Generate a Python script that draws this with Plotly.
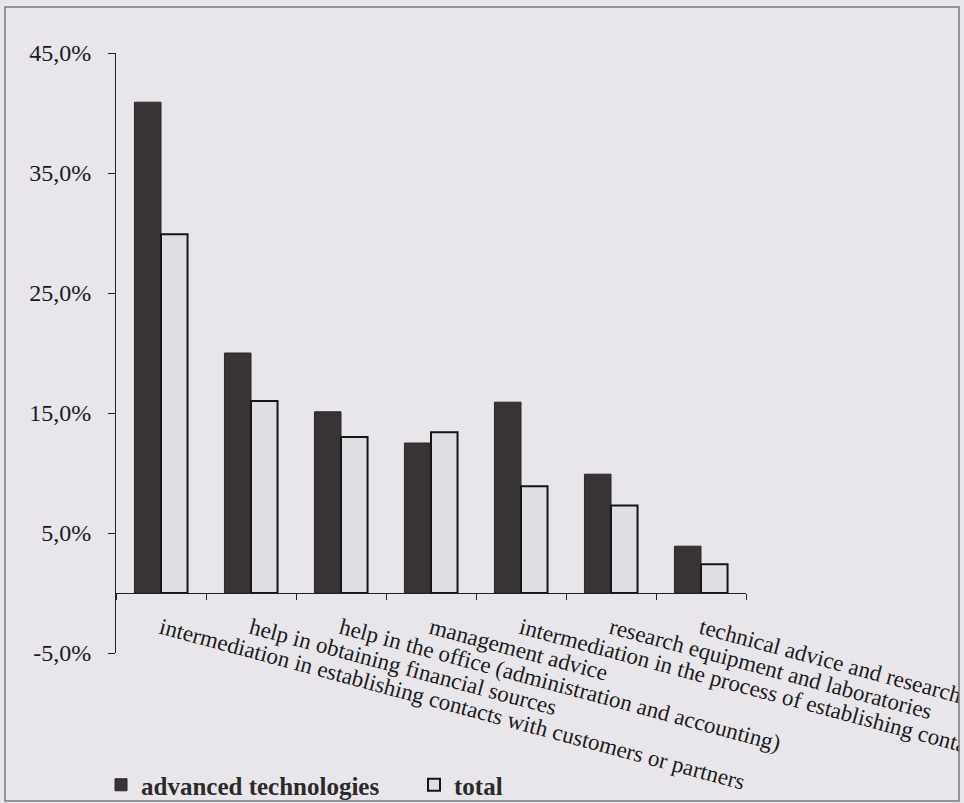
import plotly.graph_objects as go

categories = [
    "intermediation in establishing contacts with customers or partners",
    "help in obtaining financial sources",
    "help in the office (administration and accounting)",
    "management advice",
    "intermediation in the process of establishing contacts",
    "research equipment and laboratories",
    "technical advice and research",
]
advanced_technologies = [40.9, 20.0, 15.1, 12.5, 15.9, 9.9, 3.9]
total = [29.9, 16.0, 13.0, 13.4, 8.9, 7.3, 2.4]
series_names = ["advanced technologies", "total"]
y_tick_values = [-5, 5, 15, 25, 35, 45]
y_tick_labels = ["-5,0%", "5,0%", "15,0%", "25,0%", "35,0%", "45,0%"]

BG = "#e9e6eb"
SERIF = "Liberation Serif, Times New Roman, serif"

fig = go.Figure()
fig.add_trace(go.Bar(
    x=categories, y=advanced_technologies, name=series_names[0],
    marker=dict(color="#383436", line=dict(color="#2a2628", width=1)),
))
fig.add_trace(go.Bar(
    x=categories, y=total, name=series_names[1],
    marker=dict(color="#dfdee3", line=dict(color="#151515", width=2)),
))

L, R, T, B = 116, 218, 53, 150
W, H = 964, 803
pw, ph = W - L - R, H - T - B

def px_x(p):
    return (p - L) / pw

def px_y(p):
    return (H - B - p) / ph

fig.update_layout(
    width=W, height=H,
    margin=dict(l=L, r=R, t=T, b=B, autoexpand=False),
    paper_bgcolor=BG, plot_bgcolor=BG,
    barmode="group", bargap=0.41, bargroupgap=0.0,
    font=dict(family=SERIF, color="#1a1a1a"),
    showlegend=True,
    legend=dict(
        orientation="h", x=px_x(101), y=px_y(785), xanchor="left", yanchor="middle",
        font=dict(family=SERIF, size=25, color="#2a2a2a", weight="bold"),
        bgcolor="rgba(0,0,0,0)", entrywidth=268, itemwidth=30,
        traceorder="normal",
    ),
    xaxis=dict(
        anchor="free", position=0.1,
        showline=True, linecolor="#222", linewidth=1,
        ticks="outside", tickson="boundaries", ticklen=6, tickcolor="#222",
        tickangle=15, automargin=False, ticklabelstandoff=12,
        tickfont=dict(family=SERIF, size=23, color="#1a1a1a"),
        showgrid=False, zeroline=False,
    ),
    yaxis=dict(
        range=[-5, 45], tickvals=y_tick_values, ticktext=y_tick_labels,
        showline=True, linecolor="#222", linewidth=1,
        ticks="outside", ticklen=7, tickcolor="#222",
        tickfont=dict(family=SERIF, size=24, color="#1a1a1a"),
        ticklabelstandoff=12,
        showgrid=False, zeroline=False, automargin=False,
    ),
    shapes=[
        dict(type="rect", xref="paper", yref="paper", layer="above",
             x0=px_x(959.5), x1=px_x(975), y0=px_y(810), y1=px_y(-5),
             fillcolor=BG, line=dict(width=0)),
        dict(type="rect", xref="paper", yref="paper", layer="above",
             x0=px_x(5), x1=px_x(959), y0=px_y(801), y1=px_y(7),
             line=dict(color="#7a7a7a", width=1.5)),
    ],
)

fig.write_html("out.html")
